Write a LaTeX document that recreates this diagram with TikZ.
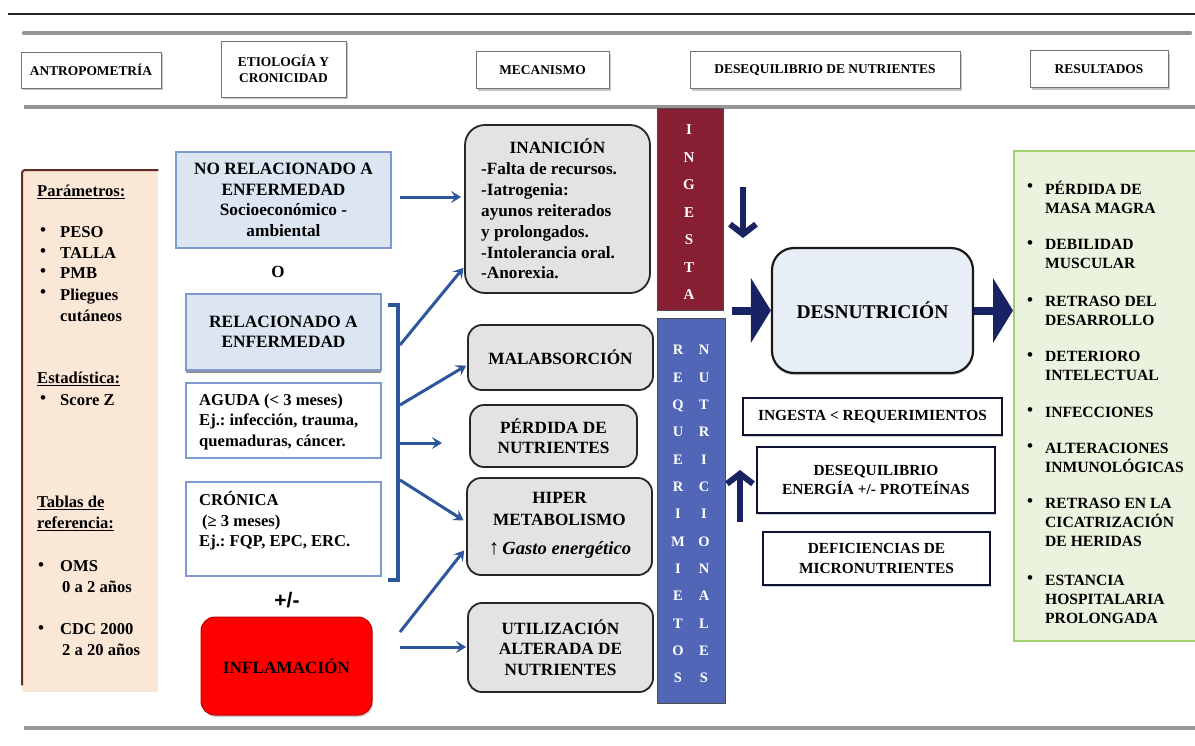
\documentclass[tikz,border=0pt]{standalone}
\usepackage{fontspec}
\setmainfont{Liberation Serif}
\newfontfamily\sansfnt{Liberation Sans}
\usetikzlibrary{arrows.meta,shadows}
\definecolor{peach}{RGB}{251,231,214}
\definecolor{peachedge}{RGB}{95,45,35}
\definecolor{lblue}{RGB}{220,230,243}
\definecolor{bborder}{RGB}{125,155,208}
\definecolor{connblue}{RGB}{46,86,156}
\definecolor{gbox}{RGB}{227,227,227}
\definecolor{ingred}{RGB}{135,30,50}
\definecolor{reqblue}{RGB}{82,102,184}
\definecolor{navy}{RGB}{25,35,100}
\definecolor{desfill}{RGB}{232,238,246}
\definecolor{gfill}{RGB}{235,242,222}
\definecolor{gedge}{RGB}{165,205,115}
\definecolor{hline}{RGB}{150,150,150}
\begin{document}
\frenchspacing
\begin{tikzpicture}[x=1pt,y=-1pt,
  hdr/.style={draw=black!55, line width=0.8pt, fill=white,
    drop shadow={shadow xshift=1.5pt,shadow yshift=-2pt,fill=black!45},
    font=\fontsize{13.4}{16}\selectfont\bfseries, align=center, inner sep=0pt},
  bluebox/.style={draw=bborder, line width=1.5pt, fill=lblue,
    font=\fontsize{17.3}{20.5}\selectfont\bfseries, align=center, inner sep=0pt},
  whitebox/.style={draw=bborder, line width=1.5pt, fill=white, inner sep=0pt},
  graybox/.style={draw=black!85, line width=1.8pt, fill=gbox, rounded corners=14pt,
    font=\fontsize{17.2}{20.5}\selectfont\bfseries, align=center, inner sep=0pt},
  blkbox/.style={draw=navy!50!black, line width=2.5pt, fill=white,
    drop shadow={shadow xshift=1pt,shadow yshift=-2pt,fill=black!40},
    font=\fontsize{15.4}{19.5}\selectfont\bfseries, align=center, inner sep=0pt},
  ltext/.style={font=\fontsize{17}{21}\selectfont\bfseries, align=left, inner sep=0pt, anchor=west},
  ptext/.style={font=\fontsize{16.6}{21}\selectfont\bfseries, align=left, inner sep=0pt, anchor=west},
  rtext/.style={font=\fontsize{15.6}{19}\selectfont\bfseries, align=left, inner sep=0pt, anchor=west},
  bul/.style={font=\fontsize{17}{19}\selectfont\bfseries, inner sep=0pt},
  conn/.style={draw=connblue, line width=3pt, -{Stealth[length=10pt,width=12pt,inset=4pt]}},
  bigarrow/.style={draw=navy, fill=navy, line width=8pt, -{Triangle[length=20pt,width=64pt]}},
  chevron/.style={draw=navy, line width=6pt, -{Straight Barb[length=10pt,width=26pt]}}
]
\useasboundingbox (0,0) rectangle (1195,745);
\fill[white] (0,0) rectangle (1195,745);

% rules
\draw[black!85, line width=2.5pt] (8,14) -- (1195,14);
\draw[hline, line width=4.5pt, line cap=round] (24,33) -- (1190,33);
\draw[hline, line width=3.5pt] (24,107) -- (1195,107);
\draw[hline, line width=4pt] (24,728) -- (1195,728);

% headers
\node[hdr, minimum width=140pt, minimum height=36pt] (h1) at (91,70) {ANTROPOMETRÍA};
\node[hdr, minimum width=125pt, minimum height=56pt] (h2) at (283.5,69) {ETIOLOGÍA Y\\CRONICIDAD};
\node[hdr, minimum width=133pt, minimum height=37pt] (h3) at (542.5,70) {MECANISMO};
\node[hdr, minimum width=270pt, minimum height=37pt] (h4) at (825,70) {DESEQUILIBRIO DE NUTRIENTES};
\node[hdr, minimum width=138pt, minimum height=37pt] (h5) at (1099,69) {RESULTADOS};

% left panel
\node[fill=peach, minimum width=136pt, minimum height=522pt, inner sep=0pt, anchor=north west] (panel) at (22,170) {};
\draw[peachedge, line width=2pt, rounded corners=3pt] ([yshift=7pt]panel.south west) -- (panel.north west) -- (panel.north east);
\node[ptext] (p1) at (37,192) {\underline{Parámetros:}};
\node[bul] (pb1) at (43,232) {•}; \node[ptext] (p2) at (60,232) {PESO};
\node[bul] (pb2) at (43,253) {•}; \node[ptext] (p3) at (60,253) {TALLA};
\node[bul] (pb3) at (43,273) {•}; \node[ptext] (p4) at (60,273) {PMB};
\node[bul] (pb4) at (43,294) {•}; \node[ptext] (p5) at (60,305) {Pliegues\\cutáneos};
\node[ptext] (p6) at (37,379) {\underline{Estadística:}};
\node[bul] (pb5) at (43,400) {•}; \node[ptext] (p7) at (60,400) {Score Z};
\node[ptext] (p8) at (37,513) {\underline{Tablas de}\\\underline{referencia:}};
\node[bul] (pb6) at (41,567) {•}; \node[ptext] (p9) at (60,577) {OMS\\\hspace*{2pt}0 a 2 años};
\node[bul] (pb7) at (41,630) {•}; \node[ptext] (p10) at (60,640) {CDC 2000\\\hspace*{2pt}2 a 20 años};

% etiology column
\node[bluebox, minimum width=215pt, minimum height=96pt] (nr) at (283.5,200) {NO RELACIONADO A\\ENFERMEDAD\\Socioeconómico -\\ambiental};
\node[font=\fontsize{17}{20}\selectfont\bfseries, inner sep=0pt] (o) at (278,272) {O};
\node[bluebox, minimum width=195pt, minimum height=76pt,
  drop shadow={shadow xshift=0pt,shadow yshift=-2.5pt,fill=black!85}] (rel) at (283.5,332) {RELACIONADO A\\ENFERMEDAD};
\node[whitebox, minimum width=195pt, minimum height=75pt] (ag) at (283.5,420.5) {};
\node[ltext, font=\fontsize{16.6}{20.5}\selectfont\bfseries] (agt) at (199,422) {AGUDA (< 3 meses)\\Ej.: infección, trauma,\\quemaduras, cáncer.};
\node[whitebox, minimum width=195pt, minimum height=94pt] (cr) at (283.5,529) {};
\node[ltext, font=\fontsize{16.6}{20.5}\selectfont\bfseries] (crt) at (199,521) {CRÓNICA\\\hspace*{3pt}(≥ 3 meses)\\Ej.: FQP, EPC, ERC.};
\node[font=\fontsize{21}{24}\selectfont\sansfnt\bfseries, inner sep=0pt] (pm) at (287,600) {+/-};
\node[draw=red!75!black, line width=1pt, fill=red, rounded corners=14pt,
  minimum width=171pt, minimum height=98pt, inner sep=0pt,
  drop shadow={shadow xshift=1pt,shadow yshift=-2pt,fill=black!35},
  font=\fontsize{17.2}{20}\selectfont\bfseries] (infl) at (286.5,666) {INFLAMACIÓN};

% mechanism column
\node[graybox, rounded corners=20pt, minimum width=185pt, minimum height=168pt] (inan) at (557.5,209) {};
\node[font=\fontsize{17.2}{21}\selectfont\bfseries, inner sep=0pt] (inant) at (557.5,146) {INANICIÓN};
\node[ltext, font=\fontsize{17.2}{20.8}\selectfont\bfseries] (inanl) at (481,221) {-Falta de recursos.\\-Iatrogenia:\\ayunos reiterados\\y prolongados.\\-Intolerancia oral.\\-Anorexia.};
\node[graybox, minimum width=185pt, minimum height=65pt] (malab) at (560.5,357.5) {MALABSORCIÓN};
\node[graybox, minimum width=167pt, minimum height=62pt] (perd) at (553.5,436) {PÉRDIDA DE\\NUTRIENTES};
\node[graybox, minimum width=185pt, minimum height=97pt] (hiper) at (559.5,526.5) {};
\node[font=\fontsize{17.2}{22}\selectfont\bfseries, align=center, inner sep=0pt] (hipert) at (559.5,509) {HIPER\\METABOLISMO};
\node[font=\fontsize{18.6}{20}\selectfont\bfseries, inner sep=0pt] (hiperg) at (560,550) {{\mdseries\fontsize{21}{20}\selectfont ↑}\,\textit{Gasto energético}};
\node[graybox, minimum width=185pt, minimum height=89pt] (util) at (560.5,647.5) {UTILIZACIÓN\\ALTERADA DE\\NUTRIENTES};

% bars
\node[fill=ingred, draw=black!70, line width=1pt, minimum width=66pt, minimum height=202pt, inner sep=0pt] (ing) at (690,209) {};
\node[text=white, font=\fontsize{15}{27.5}\selectfont\bfseries, align=center, inner sep=0pt] (ingt) at (689,212.5) {I\\N\\G\\E\\S\\T\\A};
\node[fill=reqblue, draw=black!70, line width=1pt, minimum width=68pt, minimum height=385pt, inner sep=0pt] (req) at (691,510.5) {};
\node[text=white, font=\fontsize{14.5}{27.33}\selectfont\bfseries, align=center, inner sep=0pt] (reqa) at (678,514) {R\\E\\Q\\U\\E\\R\\I\\M\\I\\E\\T\\O\\S};
\node[text=white, font=\fontsize{14.5}{27.33}\selectfont\bfseries, align=center, inner sep=0pt] (reqb) at (704,514) {N\\U\\T\\R\\I\\C\\I\\O\\N\\A\\L\\E\\S};

% imbalance column
\node[draw=black!90, line width=2.2pt, fill=desfill, rounded corners=22pt,
  minimum width=201pt, minimum height=125pt, inner sep=0pt,
  drop shadow={shadow xshift=0pt,shadow yshift=-2pt,fill=black!40},
  font=\fontsize{19.5}{22}\selectfont\bfseries] (desn) at (872.5,310.5) {DESNUTRICIÓN};
\node[blkbox, minimum width=259pt, minimum height=37pt] (ir) at (872.5,416.5) {INGESTA < REQUERIMIENTOS};
\node[blkbox, minimum width=238pt, minimum height=66pt] (de) at (876,480) {DESEQUILIBRIO\\ENERGÍA +/- PROTEÍNAS};
\node[blkbox, minimum width=227pt, minimum height=53pt] (df) at (876.5,558.5) {DEFICIENCIAS DE\\MICRONUTRIENTES};

% results panel
\node[fill=gfill, draw=gedge, line width=2pt, minimum width=190pt, minimum height=490pt, inner sep=0pt, anchor=north west] (res) at (1013,150) {};
\node[bul] (rb1) at (1030,188) {•}; \node[rtext] (r1) at (1045,197.5) {PÉRDIDA DE\\MASA MAGRA};
\node[bul] (rb2) at (1030,245) {•}; \node[rtext] (r2) at (1045,254) {DEBILIDAD\\MUSCULAR};
\node[bul] (rb3) at (1030,302) {•}; \node[rtext] (r3) at (1045,311) {RETRASO DEL\\DESARROLLO};
\node[bul] (rb4) at (1030,357) {•}; \node[rtext] (r4) at (1045,366) {DETERIORO\\INTELECTUAL};
\node[bul] (rb5) at (1030,412) {•}; \node[rtext] (r5) at (1045,412) {INFECCIONES};
\node[bul] (rb6) at (1030,448) {•}; \node[rtext] (r6) at (1045,457.5) {ALTERACIONES\\INMUNOLÓGICAS};
\node[bul] (rb7) at (1030,503) {•}; \node[rtext] (r7) at (1045,522) {RETRASO EN LA\\CICATRIZACIÓN\\DE HERIDAS};
\node[bul] (rb8) at (1030,580) {•}; \node[rtext] (r8) at (1045,599) {ESTANCIA\\HOSPITALARIA\\PROLONGADA};

% bracket and connectors
\coordinate (bt) at (398,305);
\coordinate (bb) at (398,580);
\draw[connblue, line width=3.5pt] ([xshift=-10pt]bt) -- (bt) -- (bb) -- ([xshift=-10pt]bb);
\coordinate (a0) at (400,197);
\coordinate (b1) at (400,345);
\coordinate (b2) at (400,405);
\coordinate (b3) at (400,443);
\coordinate (b3e) at (442,443);
\coordinate (b4) at (400,480);
\coordinate (f1) at (400,632);
\coordinate (f2) at (400,647);
\draw[conn, shorten >=3pt] (a0) -- (a0 -| inan.west);
\draw[conn, shorten >=1pt] (b1) -- (inan.west |- 0,267);
\draw[conn, shorten >=1pt] (b2) -- (malab.west |- 0,365);
\draw[conn] (b3) -- (b3e);
\draw[conn, shorten >=3pt] (b4) -- (hiper.west |- 0,522);
\draw[conn, shorten >=3pt] (f1) -- (hiper.west |- 0,548);
\draw[conn, shorten >=1pt] (f2) -- (util.west |- 0,647);

% navy arrows
\coordinate (dn1) at (743,187);
\coordinate (dn2) at (743,238);
\draw[chevron] (dn1) -- (dn2);
\coordinate (up1) at (740,522);
\coordinate (up2) at (740,470);
\draw[chevron] (up1) -- (up2);
\draw[bigarrow] ([xshift=-39pt]desn.west) -- (desn.west);
\draw[bigarrow] (desn.east) -- (res.west |- desn.east);
\end{tikzpicture}
\end{document}
